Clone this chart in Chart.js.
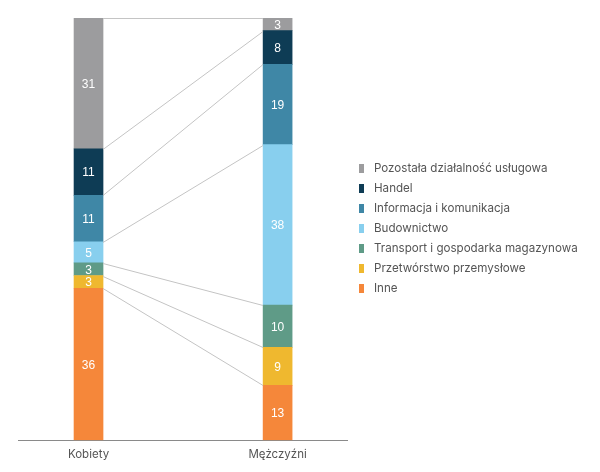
<!DOCTYPE html>
<html>
<head>
<meta charset="utf-8">
<script src="https://cdn.jsdelivr.net/npm/chart.js@4.4.1/dist/chart.umd.min.js"></script>
<style>
  html, body { margin: 0; padding: 0; background: #fff; }
  #wrap { width: 600px; height: 472px; position: relative; }
  #legend { position: absolute; left: 359px; top: 158px; margin: 0; padding: 0; list-style: none;
    font: 11.6px Inter, sans-serif; color: #555; }
  #legend li { height: 20px; line-height: 20px; white-space: nowrap; }
  #legend .sw { display: inline-block; width: 5px; height: 9px; margin-right: 10px; vertical-align: -1px; }
</style>
</head>
<body>
<div id="wrap"><canvas id="chart"></canvas><ul id="legend"></ul></div>
<script>
// Employment structure by sector, women vs men (percent, stacked to 100).

const GROUPS = ['Kobiety', 'Mężczyźni'];
// bottom of the stack first
const SECTORS = [
  'Inne',
  'Przetwórstwo przemysłowe',
  'Transport i gospodarka magazynowa',
  'Budownictwo',
  'Informacja i komunikacja',
  'Handel',
  'Pozostała działalność usługowa',
];
const WOMEN = [36, 3, 3, 5, 11, 11, 31];
const MEN = [13, 9, 10, 38, 19, 8, 3];

const SECTOR_COLOR = ['#f5873a', '#efb82f', '#5f9b87', '#88cfee', '#3f87a6', '#0e3c55', '#9c9c9e'];

Chart.defaults.font.family = 'Inter, sans-serif';
Chart.defaults.color = '#555';

// Grey lines joining the tops of matching segments of both bars.
const connectors = {
  id: 'connectors',
  afterDatasetsDraw(chart) {
    const { ctx, scales: { y } } = chart;
    let sumW = 0, sumM = 0;
    ctx.save();
    ctx.strokeStyle = '#c4c4c4';
    ctx.lineWidth = 1;
    SECTORS.forEach((_, i) => {
      sumW += WOMEN[i];
      sumM += MEN[i];
      const [a, b] = chart.getDatasetMeta(i).data;
      ctx.beginPath();
      ctx.moveTo(a.x + a.width / 2, Math.round(y.getPixelForValue(sumW)) + 0.5);
      ctx.lineTo(b.x - b.width / 2, Math.round(y.getPixelForValue(sumM)) + 0.5);
      ctx.stroke();
    });
    ctx.restore();
  },
};

// White value labels in the middle of each segment.
const segmentLabels = {
  id: 'segmentLabels',
  afterDatasetsDraw(chart) {
    const { ctx } = chart;
    ctx.save();
    ctx.fillStyle = '#fff';
    ctx.font = '12px "Liberation Sans", Arial, sans-serif';
    ctx.textAlign = 'center';
    ctx.textBaseline = 'middle';
    chart.data.datasets.forEach((ds, i) => {
      chart.getDatasetMeta(i).data.forEach((bar, j) => {
        const mid = (bar.y + bar.base) / 2;
        ctx.fillText(String(ds.data[j].y), bar.x, mid + 1);
      });
    });
    ctx.restore();
  },
};

new Chart(document.getElementById('chart'), {
  type: 'bar',
  data: {
    datasets: SECTORS.map((name, i) => ({
      label: name,
      data: [{ x: 0, y: WOMEN[i] }, { x: 1, y: MEN[i] }],
      backgroundColor: SECTOR_COLOR[i],
      borderWidth: 0,
      barThickness: 29,
    })),
  },
  options: {
    responsive: true,
    maintainAspectRatio: false,
    animation: false,
    layout: { padding: { top: 18, left: 18, right: 253, bottom: 4 } },
    scales: {
      x: {
        type: 'linear',
        stacked: true,
        offset: false,
        min: -0.373,
        max: 1.367,
        afterBuildTicks: (axis) => { axis.ticks = GROUPS.map((_, i) => ({ value: i })); },
        grid: { display: false, drawTicks: false },
        border: { display: true, color: '#8a8a8a', width: 1 },
        ticks: {
          padding: 7,
          color: '#555',
          font: { size: 11.5 },
          callback: (v) => GROUPS[v],
        },
      },
      y: { stacked: true, display: false, min: 0, max: 100 },
    },
    plugins: {
      tooltip: { enabled: false },
      legend: { display: false },
    },
  },
  plugins: [connectors, segmentLabels],
});

// Legend, top of the stack first.
document.getElementById('legend').innerHTML = SECTORS.map((name, i) =>
  `<li><span class="sw" style="background:${SECTOR_COLOR[i]}"></span>${name}</li>`
).reverse().join('');
</script>
</body>
</html>
